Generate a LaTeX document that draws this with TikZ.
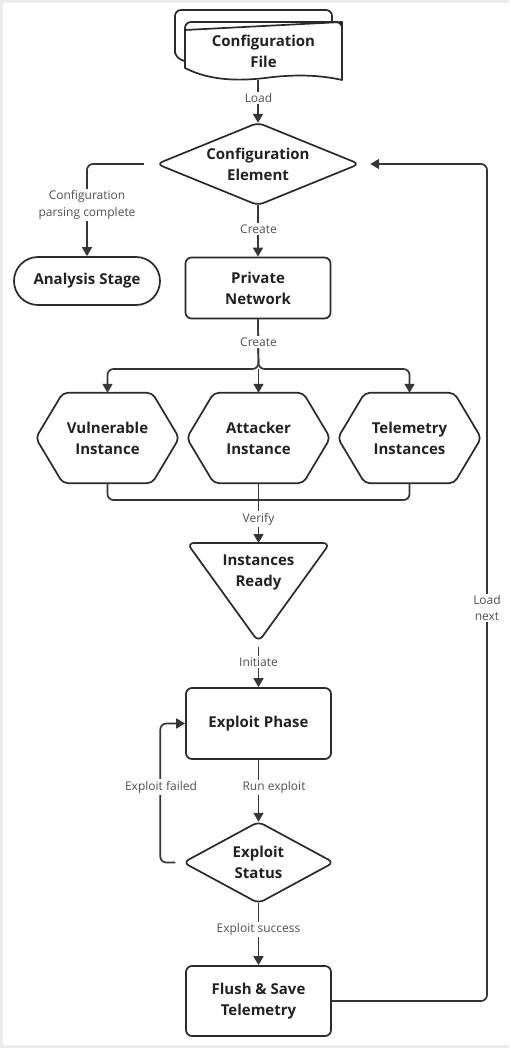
\documentclass[tikz,border=0pt]{standalone}
\usepackage{fontspec}
\setmainfont{Open Sans}
\usetikzlibrary{arrows.meta}
\definecolor{edgecol}{HTML}{363636}
\definecolor{shapecol}{HTML}{2a2a2a}
\definecolor{txtcol}{HTML}{222222}
\definecolor{labcol}{HTML}{505050}
\definecolor{framecol}{HTML}{ECECEC}
\begin{document}
\begin{tikzpicture}[x=1pt,y=-1pt,
  shp/.style={draw=shapecol, line width=1.7pt, line join=round},
  lbl/.style={font=\fontsize{15}{21}\selectfont\bfseries, text=txtcol, align=center, inner sep=0pt},
  elbl/.style={font=\fontsize{12}{16.5}\selectfont, text=labcol, fill=white, inner sep=1.5pt, align=center},
  conn/.style={draw=edgecol, line width=1.7pt},
  arr/.style={conn, -{Triangle[width=10pt,length=9pt]}}
]
\useasboundingbox (0,0) rectangle (509,1048);
\fill[white] (0,0) rectangle (509,1048);
\fill[framecol] (0,0) rectangle (509,3);
\fill[framecol] (0,0) rectangle (3,1048);
\fill[framecol] (0,1045) rectangle (509,1048);

% Configuration File (multi-document)
\draw[shp, fill=white, rounded corners=6] (175,57) -- (175,10) -- (332,10) -- (332,68)
   -- (332,68) .. controls (310,64) and (285,63) .. (255,66) .. controls (230,70) and (205,70) .. (175,57) -- cycle;
\draw[shp, fill=white] (342,22) -- (342,80) .. controls (320,75) and (295,74) .. (265,78) .. controls (240,81) and (210,81) .. (185,68) -- (185,30) -- cycle;
\draw[shp, rounded corners=6] (185,68) -- (185,22) -- (342,22) -- (342,80);
\node[lbl, minimum width=157pt, minimum height=58pt] (cfile) at (263.5,51) {Configuration\\File};

% Configuration Element diamond
\node[lbl, minimum width=202pt, minimum height=82pt] (ce) at (258,164) {Configuration\\Element};
\draw[shp, rounded corners=6] (ce.north) -- (ce.east) -- (ce.south) -- (ce.west) -- cycle;

% Analysis Stage
\node[lbl, shp, fill=white, rounded corners=24pt, minimum width=146pt, minimum height=48pt] (as) at (87,281) {Analysis Stage};

% Private Network
\node[lbl, shp, fill=white, rounded corners=6pt, minimum width=145pt, minimum height=61pt] (pn) at (258,288) {Private\\Network};

% Hexagons
\newcommand\hexout[1]{\draw[shp, rounded corners=5] ([xshift=27pt]#1.north west) -- ([xshift=-27pt]#1.north east) -- (#1.east) -- ([xshift=-27pt]#1.south east) -- ([xshift=27pt]#1.south west) -- (#1.west) -- cycle;}
\node[lbl, minimum width=143pt, minimum height=90pt] (vi) at (107.5,438) {Vulnerable\\Instance};
\node[lbl, minimum width=143pt, minimum height=90pt] (ai) at (258.5,438) {Attacker\\Instance};
\node[lbl, minimum width=143pt, minimum height=90pt] (ti) at (409.5,438) {Telemetry\\Instances};
\hexout{vi}\hexout{ai}\hexout{ti}

% Instances Ready triangle
\coordinate (irtl) at (187,543);
\coordinate (irtr) at (330,543);
\coordinate (irtop) at (258.5,543);
\coordinate (irtip) at (258.5,642);
\node[lbl] (ir) at (258.5,572.5) {Instances\\Ready};
\draw[shp, rounded corners=7] (irtl) -- (irtr) -- (irtip) -- cycle;

% Exploit Phase
\node[lbl, shp, fill=white, rounded corners=6pt, minimum width=145pt, minimum height=71pt] (ep) at (258.5,723.5) {Exploit Phase};

% Exploit Status diamond
\node[lbl, minimum width=150pt, minimum height=81pt] (es) at (258.5,862.5) {Exploit\\Status};
\draw[shp, rounded corners=6] (es.north) -- (es.east) -- (es.south) -- (es.west) -- cycle;

% Flush & Save Telemetry
\node[lbl, shp, fill=white, rounded corners=6pt, minimum width=145pt, minimum height=70pt] (fs) at (258.5,1001) {Flush \& Save\\Telemetry};

% junction coordinates
\coordinate (j1) at (258.5,369);
\coordinate (j2) at (258.5,500);
\coordinate (lnx) at (487,1001);

% Connectors
\draw[arr] (cfile.south -| ce.north) -- (ce.north);
\draw[arr, rounded corners=6] ([xshift=-13pt]ce.west) -| (as.north);
\draw[arr] (ce.south) -- (pn.north);
\draw[arr, rounded corners=6] (pn.south) -- (j1) -| (vi.north);
\draw[arr] (j1) -- (ai.north);
\draw[arr, rounded corners=6] (pn.south) -- (j1) -| (ti.north);
\draw[conn, rounded corners=6] (vi.south) |- (j2);
\draw[conn, rounded corners=6] (ti.south) |- (j2);
\draw[arr] (ai.south) -- (irtop);
\draw[arr, shorten <=5pt] (irtip) -- (ep.north);
\draw[arr] (ep.south) -- (es.north);
\draw[arr, rounded corners=6] ([xshift=-8pt]es.west) -- ++(-15,0) |- (ep.west);
\draw[arr] (es.south) -- (fs.north);
\draw[arr, rounded corners=6] (fs.east) -- (lnx) |- ([xshift=11pt]ce.east);

% Edge labels
\node[elbl] (lload) at (258.5,98) {Load};
\node[elbl] (lparse) at (87,205) {Configuration\\parsing complete};
\node[elbl] (lcreate1) at (258.5,229) {Create};
\node[elbl] (lcreate2) at (258.5,342) {Create};
\node[elbl] (lverify) at (258.5,519) {Verify};
\node[elbl] (linit) at (258.5,662) {Initiate};
\node[elbl] (lrun) at (274,787) {Run exploit};
\node[elbl] (lfail) at (161,787) {Exploit failed};
\node[elbl] (lsucc) at (258.5,929) {Exploit success};
\node[elbl] (lnext) at (487,608) {Load\\next};
\end{tikzpicture}
\end{document}
